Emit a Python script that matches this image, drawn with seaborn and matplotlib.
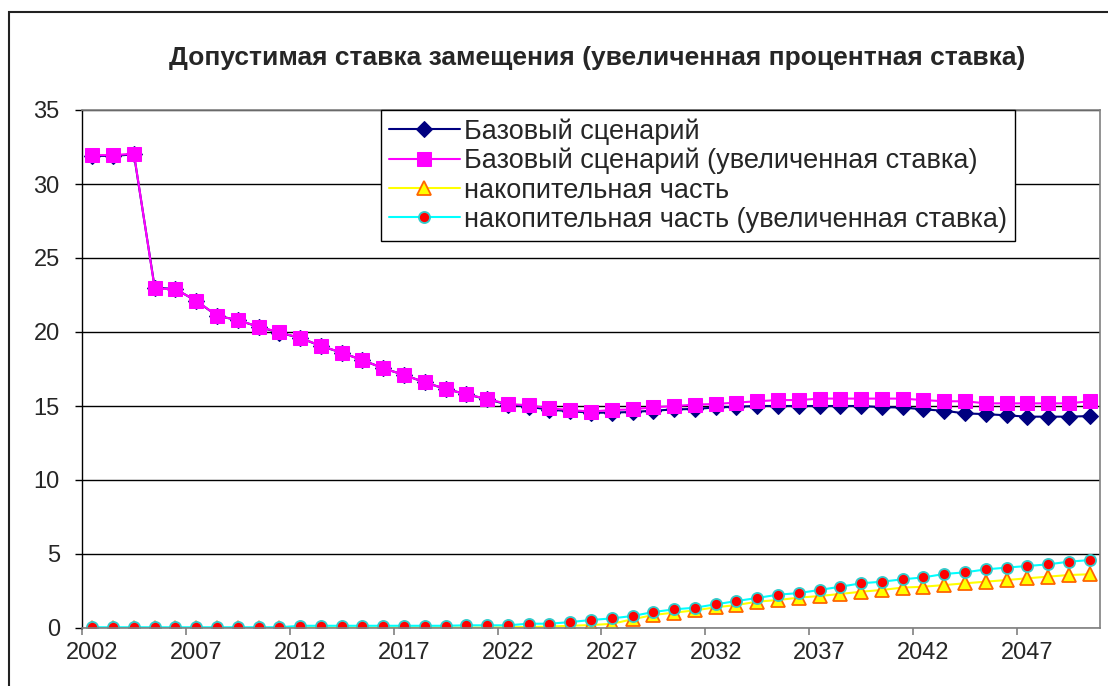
import numpy as np
import pandas as pd
import matplotlib
matplotlib.use('Agg')
import matplotlib.pyplot as plt
from matplotlib.patches import Rectangle
import seaborn as sns

# === data ===
years = list(range(2002, 2051))

base = [31.9, 31.9, 32.0, 23.0, 22.9, 22.1, 21.1, 20.8, 20.35, 19.95,
        19.6, 19.05, 18.6, 18.1, 17.55, 17.1, 16.6, 16.15, 15.8, 15.45,
        15.1, 14.95, 14.75, 14.65, 14.55, 14.55, 14.6, 14.68, 14.77, 14.8,
        14.9, 14.95, 15.0, 15.0, 15.0, 15.0, 15.0, 15.0, 14.92, 14.9,
        14.77, 14.68, 14.5, 14.45, 14.37, 14.28, 14.28, 14.28, 14.32]

base_high = [31.95, 31.95, 32.05, 22.95, 22.88, 22.12, 21.1, 20.8, 20.36, 19.98,
             19.6, 19.07, 18.6, 18.1, 17.55, 17.1, 16.6, 16.15, 15.8, 15.47,
             15.14, 15.05, 14.84, 14.73, 14.62, 14.73, 14.77, 14.91, 15.0, 15.09,
             15.14, 15.23, 15.32, 15.4, 15.4, 15.5, 15.5, 15.5, 15.5, 15.5,
             15.4, 15.32, 15.32, 15.18, 15.18, 15.18, 15.18, 15.18, 15.32]

funded = [0.0, 0.0, 0.0, 0.0, 0.0, 0.0, 0.0, 0.0, 0.0, 0.0,
          0.03, 0.03, 0.03, 0.03, 0.03, 0.03, 0.03, 0.03, 0.03, 0.03,
          0.05, 0.07, 0.1, 0.15, 0.2, 0.28, 0.59, 0.88, 1.04, 1.19,
          1.4, 1.55, 1.78, 1.89, 2.05, 2.16, 2.3, 2.45, 2.57, 2.73,
          2.79, 2.9, 3.02, 3.13, 3.24, 3.36, 3.47, 3.58, 3.63]

funded_high = [0.05, 0.05, 0.05, 0.05, 0.05, 0.05, 0.05, 0.05, 0.05, 0.05,
               0.15, 0.15, 0.15, 0.15, 0.15, 0.15, 0.15, 0.15, 0.18, 0.18,
               0.18, 0.29, 0.29, 0.4, 0.54, 0.65, 0.81, 1.08, 1.26, 1.37,
               1.6, 1.82, 2.03, 2.25, 2.36, 2.57, 2.79, 3.02, 3.13, 3.29,
               3.42, 3.65, 3.76, 3.96, 4.08, 4.19, 4.3, 4.48, 4.59]

labels = ['Базовый сценарий',
          'Базовый сценарий (увеличенная ставка)',
          'накопительная часть',
          'накопительная часть (увеличенная ставка)']
label_years = list(range(2002, 2051, 5))
y_ticks = [0, 5, 10, 15, 20, 25, 30, 35]

sns.set_style('white')
plt.rcParams['font.family'] = ['Liberation Sans', 'DejaVu Sans']

fig = plt.figure(figsize=(11.08, 6.86), dpi=100)
ax = fig.add_axes([82 / 1108, 1 - 628 / 686, (1100 - 82) / 1108, (628 - 110) / 686])

styles = [
    dict(color='#000080', marker='D', markersize=8.5, markerfacecolor='#000080', markeredgecolor='#000080'),
    dict(color='#FF00FF', marker='s', markersize=9.5, markerfacecolor='#FF00FF', markeredgecolor='#FF00FF'),
    dict(color='#FFFF00', marker='^', markersize=9.5, markerfacecolor='#FFFF00', markeredgecolor='#FF6600',
         markeredgewidth=1.3),
    dict(color='#00FFFF', marker='o', markersize=8, markerfacecolor='#FF0000', markeredgecolor='#33CCCC',
         markeredgewidth=1.3),
]
series = [base, base_high, funded, funded_high]

for vals, lab, st in zip(series, labels, styles):
    sns.lineplot(x=years, y=vals, ax=ax, label=lab, linewidth=1.5, **st)

ax.set_xlim(2001.5, 2050.5)
ax.set_ylim(0, 35)

ax.set_yticks(y_ticks)
ax.yaxis.grid(True, color='black', linewidth=1)
ax.set_axisbelow(True)
ax.tick_params(axis='y', direction='out', length=5, width=1, color='black',
               labelsize=17, pad=11, left=True)

ax.set_xticks(label_years)
ax.set_xticklabels([str(y) for y in label_years])
ax.set_xticks(np.arange(2001.5, 2051, 5), minor=True)
ax.tick_params(axis='x', which='major', length=0, labelsize=17, pad=10)
ax.tick_params(axis='x', which='minor', direction='out', length=5, width=1.2,
               color='#808080', bottom=True)

for side in ['top', 'right', 'bottom']:
    ax.spines[side].set_color('#808080')
    ax.spines[side].set_linewidth(1.2)
ax.spines['left'].set_color('black')
ax.spines['left'].set_linewidth(1)

ax.set_xlabel('')
ax.set_ylabel('')

fig.text(597 / 1108, 1 - 58 / 686, 'Допустимая ставка замещения (увеличенная процентная ставка)',
         ha='center', va='center', fontsize=19, fontweight='bold')

leg = ax.legend(loc='upper left', bbox_to_anchor=(381 / 1108, 1 - 110 / 686),
                bbox_transform=fig.transFigure, fontsize=19.5, frameon=True, fancybox=False,
                framealpha=1, edgecolor='black', borderpad=0.3, labelspacing=0.12,
                handlelength=2.6, handletextpad=0.15, borderaxespad=0)
leg.get_frame().set_linewidth(1)

# outer chart frame (runs off the right/bottom edge of the picture)
fig.patches.append(Rectangle((9 / 1108, -0.1), 1.2, 1 - 12 / 686 + 0.1,
                             transform=fig.transFigure, fill=False,
                             edgecolor='#222222', linewidth=1.5))

plt.savefig('out.png', dpi=100)
